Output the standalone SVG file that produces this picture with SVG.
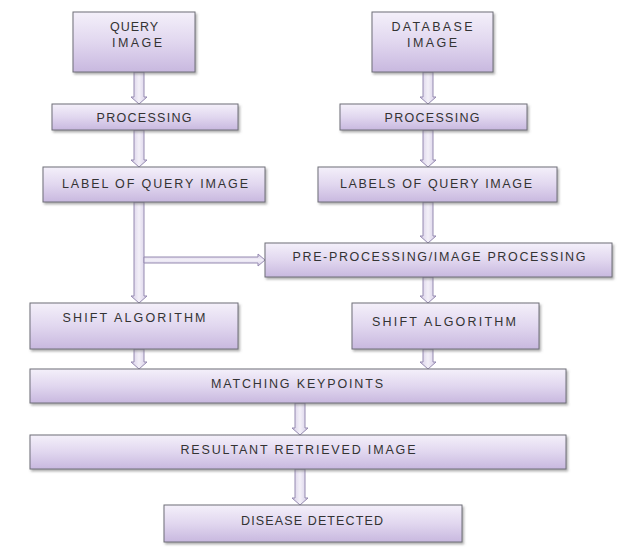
<svg xmlns="http://www.w3.org/2000/svg" width="636" height="550" viewBox="0 0 636 550">
<defs>
<linearGradient id="boxg" x1="0" y1="0" x2="0" y2="1">
<stop offset="0" stop-color="#f4f0fa"/>
<stop offset="0.5" stop-color="#e1d7ef"/>
<stop offset="1" stop-color="#c8b8df"/>
</linearGradient>
<linearGradient id="arrg" x1="0" y1="0" x2="1" y2="0">
<stop offset="0" stop-color="#d4cbe6"/>
<stop offset="0.5" stop-color="#f3f0f8"/>
<stop offset="1" stop-color="#d4cbe6"/>
</linearGradient>
<linearGradient id="arrgh" x1="0" y1="0" x2="0" y2="1">
<stop offset="0" stop-color="#d4cbe6"/>
<stop offset="0.5" stop-color="#f3f0f8"/>
<stop offset="1" stop-color="#d4cbe6"/>
</linearGradient>
<filter id="sh" x="-10%" y="-20%" width="120%" height="150%">
<feDropShadow dx="1.5" dy="2" stdDeviation="1.2" flood-color="#707070" flood-opacity="0.55"/>
</filter>
</defs>
<style>
.box{fill:url(#boxg);stroke:#6f6f78;stroke-width:1;filter:url(#sh)}
.t{font-family:"Liberation Sans",Arial,sans-serif;font-size:12.5px;fill:#333333;text-anchor:middle}
.arr{fill:url(#arrg);stroke:#958ab0;stroke-width:1}
.arrh{fill:url(#arrgh);stroke:#958ab0;stroke-width:1}
</style>
<rect width="636" height="550" fill="#ffffff"/>

<g id="connectors">
<path class="arr" d="M134,72 L144,72 L144,97 L147,97 L139,104 L131,97 L134,97 Z"/>
<path class="arr" d="M134,130 L144,130 L144,160 L147,160 L139,167 L131,160 L134,160 Z"/>
<path class="arr" d="M134,202 L144,202 L144,296 L147,296 L139,303 L131,296 L134,296 Z"/>
<path class="arrh" d="M144,257 L258,257 L258,254 L265,260 L258,266 L258,263 L144,263 Z"/>
<path class="arr" d="M134,349 L144,349 L144,362 L147,362 L139,369 L131,362 L134,362 Z"/>
<path class="arr" d="M423,72 L433,72 L433,97 L436,97 L428,104 L420,97 L423,97 Z"/>
<path class="arr" d="M423,130 L433,130 L433,160 L436,160 L428,167 L420,160 L423,160 Z"/>
<path class="arr" d="M423,202 L433,202 L433,236 L436,236 L428,243 L420,236 L423,236 Z"/>
<path class="arr" d="M423,277 L433,277 L433,296 L436,296 L428,303 L420,296 L423,296 Z"/>
<path class="arr" d="M423,349 L433,349 L433,362 L436,362 L428,369 L420,362 L423,362 Z"/>
<path class="arr" d="M295,403 L305,403 L305,428 L308,428 L300,435 L292,428 L295,428 Z"/>
<path class="arr" d="M295,469 L305,469 L305,498 L308,498 L300,505 L292,498 L295,498 Z"/>
</g>

<g id="query-image">
<rect class="box" x="73" y="12" width="122" height="60"/>
<text class="t" x="134" y="31" textLength="48" lengthAdjust="spacing">QUERY</text>
<text class="t" x="137" y="47" textLength="50" lengthAdjust="spacing">IMAGE</text>
</g>
<g id="database-image">
<rect class="box" x="372" y="12" width="121" height="60"/>
<text class="t" x="432" y="31" textLength="81" lengthAdjust="spacing">DATABASE</text>
<text class="t" x="432" y="47" textLength="50" lengthAdjust="spacing">IMAGE</text>
</g>
<g id="processing-left">
<rect class="box" x="52" y="104" width="186" height="26"/>
<text class="t" x="144" y="122" textLength="95" lengthAdjust="spacing">PROCESSING</text>
</g>
<g id="processing-right">
<rect class="box" x="340" y="104" width="187" height="26"/>
<text class="t" x="432" y="122" textLength="95" lengthAdjust="spacing">PROCESSING</text>
</g>
<g id="label-query-left">
<rect class="box" x="43" y="167" width="222" height="35"/>
<text class="t" x="155" y="188" textLength="186" lengthAdjust="spacing">LABEL OF QUERY IMAGE</text>
</g>
<g id="labels-query-right">
<rect class="box" x="318" y="167" width="239" height="35"/>
<text class="t" x="436" y="188" textLength="192" lengthAdjust="spacing">LABELS OF QUERY IMAGE</text>
</g>
<g id="pre-processing">
<rect class="box" x="265" y="243" width="347" height="34"/>
<text class="t" x="439" y="261" textLength="293" lengthAdjust="spacing">PRE-PROCESSING/IMAGE PROCESSING</text>
</g>
<g id="shift-left">
<rect class="box" x="30" y="303" width="208" height="46"/>
<text class="t" x="134" y="322" textLength="143" lengthAdjust="spacing">SHIFT ALGORITHM</text>
</g>
<g id="shift-right">
<rect class="box" x="352" y="303" width="187" height="46"/>
<text class="t" x="444" y="326" textLength="144" lengthAdjust="spacing">SHIFT ALGORITHM</text>
</g>
<g id="matching-keypoints">
<rect class="box" x="30" y="369" width="536" height="34"/>
<text class="t" x="297" y="388" textLength="172" lengthAdjust="spacing">MATCHING KEYPOINTS</text>
</g>
<g id="resultant-image">
<rect class="box" x="30" y="435" width="536" height="34"/>
<text class="t" x="298" y="454" textLength="235" lengthAdjust="spacing">RESULTANT RETRIEVED IMAGE</text>
</g>
<g id="disease-detected">
<rect class="box" x="164" y="505" width="298" height="37"/>
<text class="t" x="312" y="525" textLength="142" lengthAdjust="spacing">DISEASE DETECTED</text>
</g>
</svg>
